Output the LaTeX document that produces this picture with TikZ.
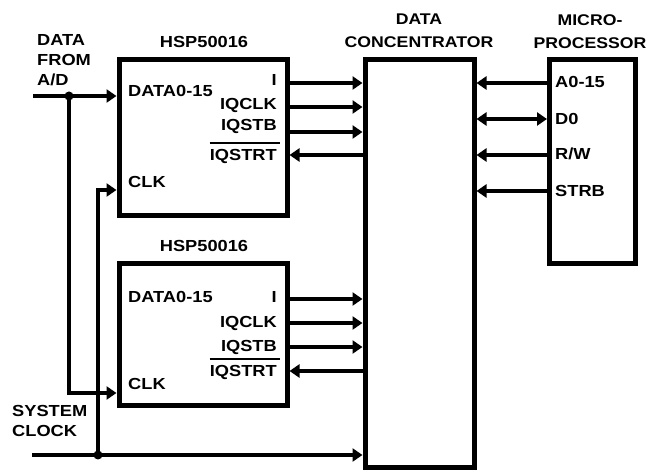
\documentclass[tikz,border=0pt]{standalone}
\usepackage{fontspec}
\setmainfont{Liberation Sans}[FakeStretch=1.14]
\usetikzlibrary{arrows.meta}

\tikzset{
  box/.style={draw=black, line width=5pt, inner sep=0pt},
  wire/.style={line width=3.2pt},
  sig/.style={wire, -{Triangle[length=10pt,width=13pt]}},
  bisig/.style={wire, {Triangle[length=10pt,width=13pt]}-{Triangle[length=10pt,width=13pt]}},
  dot/.style={circle, fill=black, inner sep=0pt, minimum size=9pt},
  lbl/.style={font=\bfseries\fontsize{16}{20}\selectfont, inner sep=0pt},
  head/.style={lbl, font=\bfseries\fontsize{15.5}{23}\selectfont, align=center},
  bar/.style={line width=2pt},
}

\begin{document}
\begin{tikzpicture}[x=1pt, y=1pt, yscale=-1]
\useasboundingbox (0,0) rectangle (657,473);

% blocks
\node[box, minimum width=168pt, minimum height=156pt] (hspa) at (203,138) {};
\node[box, minimum width=168pt, minimum height=142pt] (hspb) at (203,335) {};
\node[box, minimum width=109pt, minimum height=408pt] (conc) at (419.5,264) {};
\node[box, minimum width=86pt, minimum height=204pt] (micro) at (592.5,162) {};

% titles
\node[lbl, anchor=base] (hspatitle) at (204,48) {HSP50016};
\node[lbl, anchor=base] (hspbtitle) at (204,252) {HSP50016};
\node[head, anchor=north] (conctitle) at (419,14) {DATA\\CONCENTRATOR};
\node[head, anchor=north] (microtitle) at (590,14) {MICRO-\\PROCESSOR};
\node[lbl, align=left, anchor=north west] (adtext) at (37,34) {DATA\\FROM\\A/D};
\node[lbl, align=left, anchor=north west] (clktext) at (12,405) {SYSTEM\\CLOCK};

% pins of the first HSP50016
\node[lbl, anchor=base west] (adata) at (128,97) {DATA0-15};
\node[lbl, anchor=base west] (aclk) at (128,188) {CLK};
\node[lbl, anchor=base east] (ai) at (277,86) {I};
\node[lbl, anchor=base east] (aiqclk) at (277,110) {IQCLK};
\node[lbl, anchor=base east] (aiqstb) at (277,131) {IQSTB};
\node[lbl, anchor=base east] (aiqstrt) at (277,161) {IQSTRT};
\draw[bar] ([yshift=-7pt]aiqstrt.north west) -- ([xshift=3pt,yshift=-7pt]aiqstrt.north east);

% pins of the second HSP50016
\node[lbl, anchor=base west] (bdata) at (128,303) {DATA0-15};
\node[lbl, anchor=base west] (bclk) at (128,390) {CLK};
\node[lbl, anchor=base east] (bi) at (277,303) {I};
\node[lbl, anchor=base east] (biqclk) at (277,328) {IQCLK};
\node[lbl, anchor=base east] (biqstb) at (277,352) {IQSTB};
\node[lbl, anchor=base east] (biqstrt) at (277,377) {IQSTRT};
\draw[bar] ([yshift=-7pt]biqstrt.north west) -- ([xshift=3pt,yshift=-7pt]biqstrt.north east);

% pins of the microprocessor
\node[lbl, anchor=base west] (ma) at (555,88) {A0-15};
\node[lbl, anchor=base west] (md) at (555,125) {D0};
\node[lbl, anchor=base west] (mrw) at (555,160) {R/W};
\node[lbl, anchor=base west] (mstrb) at (555,197) {STRB};

% inputs
\coordinate (adin) at (33,96);
\node[dot] (adjoin) at (69,96) {};
\coordinate (clkin) at (32,455);
\node[dot] (clkjoin) at (98,455) {};
\draw[sig] (adin) -- (hspa.west |- adjoin);
\draw[sig] (adjoin.center) |- (hspb.west |- 0,393);
\draw[sig] (clkin) -- (conc.west |- clkjoin);
\draw[sig] (clkjoin.center) |- (hspa.west |- 0,190);

% HSP50016 to concentrator
\draw[sig] (hspa.east |- 0,83) -- (conc.west |- 0,83);
\draw[sig] (hspa.east |- 0,107) -- (conc.west |- 0,107);
\draw[sig] (hspa.east |- 0,132) -- (conc.west |- 0,132);
\draw[sig] (conc.west |- 0,155) -- (hspa.east |- 0,155);
\draw[sig] (hspb.east |- 0,299) -- (conc.west |- 0,299);
\draw[sig] (hspb.east |- 0,323) -- (conc.west |- 0,323);
\draw[sig] (hspb.east |- 0,347) -- (conc.west |- 0,347);
\draw[sig] (conc.west |- 0,371) -- (hspb.east |- 0,371);

% microprocessor to concentrator
\draw[sig] (micro.west |- 0,83) -- (conc.east |- 0,83);
\draw[bisig] (conc.east |- 0,119) -- (micro.west |- 0,119);
\draw[sig] (micro.west |- 0,155) -- (conc.east |- 0,155);
\draw[sig] (micro.west |- 0,191) -- (conc.east |- 0,191);
\end{tikzpicture}
\end{document}
